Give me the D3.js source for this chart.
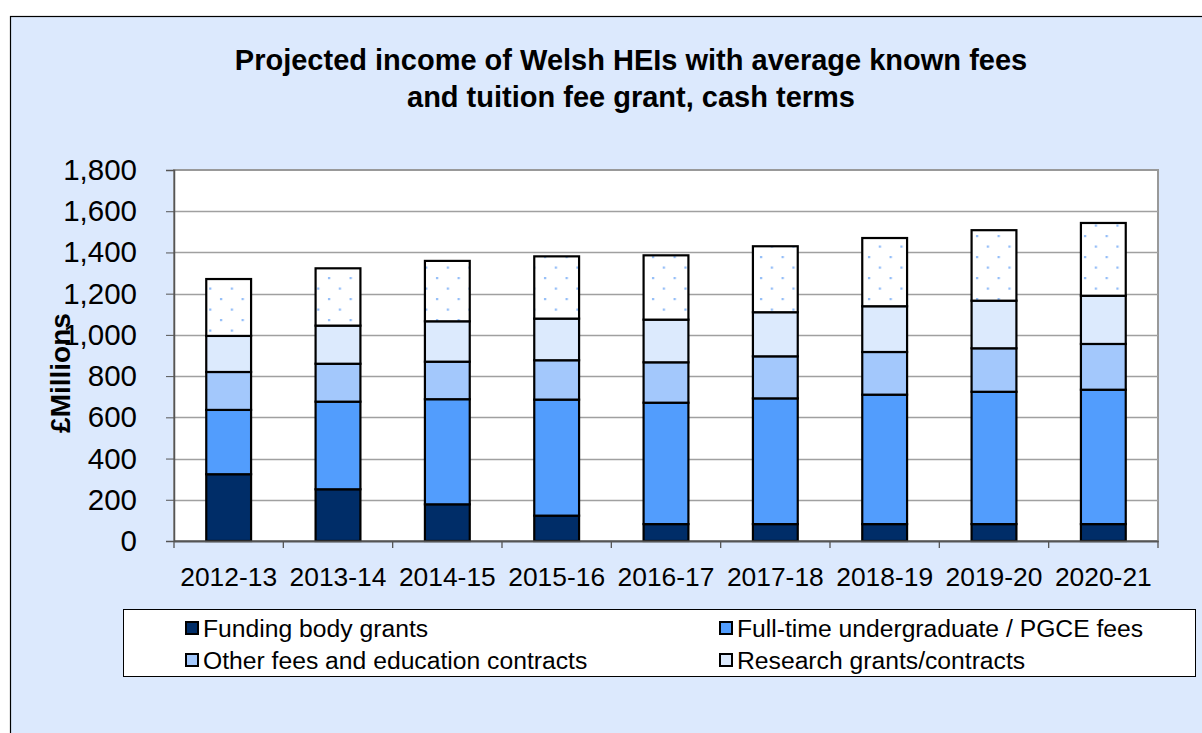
<!DOCTYPE html>
<html>
<head>
<meta charset="utf-8">
<script src="https://cdn.jsdelivr.net/npm/d3@7"></script>
<style>
  body { margin: 0; background: #fff; }
  svg { font-family: "Liberation Sans", Arial, sans-serif; }
</style>
</head>
<body>
<script>
var years = ['2012-13', '2013-14', '2014-15', '2015-16', '2016-17', '2017-18', '2018-19', '2019-20', '2020-21'];

// £ millions
var fundingBody = [324, 251, 178, 123, 82, 82, 82, 82, 82];
var ftUndergrad = [312, 425, 510, 563, 589, 610, 628, 642, 652];
var otherFees   = [184, 184, 182, 191, 196, 204, 207, 211, 222];
var research    = [175, 185, 196, 202, 207, 214, 222, 231, 234];
var otherIncome = [276, 278, 293, 302, 312, 320, 331, 342, 353];

var seriesNames = ['Funding body grants', 'Full-time undergraduate / PGCE fees',
  'Other fees and education contracts', 'Research grants/contracts', 'Other income'];
var seriesKeys = ['funding', 'ft', 'other', 'research', 'otherInc'];
var yTicks = [0, 200, 400, 600, 800, 1000, 1200, 1400, 1600, 1800];

var colors = ['#002d68', '#529dfd', '#a3c8fc', '#dceafd', 'url(#dots)'];

var data = years.map(function(y, i) {
  return { year: y, funding: fundingBody[i], ft: ftUndergrad[i], other: otherFees[i],
    research: research[i], otherInc: otherIncome[i] };
});

var width = 1202, height = 733;
var plot = { left: 174, right: 1158, top: 170, bottom: 541 };

var svg = d3.select('body').append('svg')
  .attr('width', width)
  .attr('height', height);

var defs = svg.append('defs');
var pat = defs.append('pattern')
  .attr('id', 'dots')
  .attr('patternUnits', 'userSpaceOnUse')
  .attr('width', 21.6)
  .attr('height', 21)
  .attr('x', 0).attr('y', 0);
pat.append('rect').attr('width', 21.6).attr('height', 21).attr('fill', '#fff');
pat.append('rect').attr('x', 4).attr('y', 4).attr('width', 2.2).attr('height', 2.2).attr('fill', '#90bbf8');
pat.append('rect').attr('x', 14.8).attr('y', 14.5).attr('width', 2.2).attr('height', 2.2).attr('fill', '#90bbf8');

// chart background
svg.append('rect')
  .attr('x', 10.5).attr('y', 16.5)
  .attr('width', 1300).attr('height', 800)
  .attr('fill', '#dce9fd')
  .attr('stroke', '#000')
  .attr('stroke-width', 1.2);

// title
svg.append('text')
  .attr('x', 631).attr('y', 70)
  .attr('text-anchor', 'middle')
  .style('font-size', '29px').style('font-weight', 'bold')
  .text('Projected income of Welsh HEIs with average known fees');
svg.append('text')
  .attr('x', 631).attr('y', 107)
  .attr('text-anchor', 'middle')
  .style('font-size', '29px').style('font-weight', 'bold')
  .text('and tuition fee grant, cash terms');

var x = d3.scaleBand()
  .domain(years)
  .range([plot.left, plot.right])
  .paddingInner(0.59)
  .paddingOuter(0.295);

var y = d3.scaleLinear()
  .domain([0, 1800])
  .range([plot.bottom, plot.top]);

// plot area
svg.append('rect')
  .attr('x', plot.left).attr('y', plot.top)
  .attr('width', plot.right - plot.left).attr('height', plot.bottom - plot.top)
  .attr('fill', '#fff')
  .attr('stroke', '#999')
  .attr('stroke-width', 2);

// gridlines
svg.append('g')
  .selectAll('line')
  .data(yTicks.slice(1, -1))
  .enter().append('line')
  .attr('x1', plot.left).attr('x2', plot.right)
  .attr('y1', function(d) { return Math.round(y(d)) + 0.5; })
  .attr('y2', function(d) { return Math.round(y(d)) + 0.5; })
  .attr('stroke', '#a0a0a0')
  .attr('stroke-width', 1.3);

// stacked bars
var stack = d3.stack().keys(seriesKeys);
var layers = stack(data);

var g = svg.selectAll('.layer')
  .data(layers)
  .enter().append('g')
  .attr('class', 'layer')
  .attr('fill', function(d, i) { return colors[i]; });

g.selectAll('rect')
  .data(function(d) { return d; })
  .enter().append('rect')
  .attr('x', function(d) { return x(d.data.year); })
  .attr('y', function(d) { return y(d[1]); })
  .attr('width', x.bandwidth())
  .attr('height', function(d) { return y(d[0]) - y(d[1]); })
  .attr('stroke', '#000')
  .attr('stroke-width', 2.2);

// y axis
var yAxis = d3.axisLeft(y)
  .tickValues(yTicks)
  .tickSize(8)
  .tickFormat(d3.format(','));

var yg = svg.append('g')
  .attr('transform', 'translate(' + plot.left + ',0)')
  .call(yAxis);
yg.select('.domain').attr('stroke', '#555').attr('stroke-width', 1.5);
yg.selectAll('.tick line').attr('stroke', '#555');
yg.selectAll('.tick text')
  .attr('x', -37)
  .style('font-size', '29.5px')
  .attr('fill', '#000');

// x axis
var xAxis = d3.axisBottom(x).tickSize(0).tickSizeOuter(0);
var xg = svg.append('g')
  .attr('transform', 'translate(0,' + plot.bottom + ')')
  .call(xAxis);
xg.select('.domain').attr('stroke', '#555').attr('stroke-width', 2);
xg.selectAll('.tick text')
  .attr('y', 45)
  .attr('dy', null)
  .style('font-size', '26.4px')
  .attr('fill', '#000');

// category separators on x axis
xg.selectAll('.sep')
  .data(d3.range(years.length + 1))
  .enter().append('line')
  .attr('class', 'sep')
  .attr('x1', function(i) { return plot.left + i * (plot.right - plot.left) / years.length; })
  .attr('x2', function(i) { return plot.left + i * (plot.right - plot.left) / years.length; })
  .attr('y1', 0).attr('y2', 7)
  .attr('stroke', '#555').attr('stroke-width', 1.3);

// y axis title
svg.append('text')
  .attr('transform', 'translate(70,373) rotate(-90)')
  .attr('text-anchor', 'middle')
  .style('font-size', '28px').style('font-weight', 'bold')
  .text('£Millions');

// legend
svg.append('rect')
  .attr('x', 123.5).attr('y', 609.5)
  .attr('width', 1072).attr('height', 67)
  .attr('fill', '#fff')
  .attr('stroke', '#000')
  .attr('stroke-width', 1);

var legendPos = [[186, 628], [720, 628], [186, 660], [720, 660]];
var lg = svg.selectAll('.legend')
  .data(seriesNames.slice(0, 4))
  .enter().append('g')
  .attr('class', 'legend')
  .attr('transform', function(d, i) { return 'translate(' + legendPos[i][0] + ',' + legendPos[i][1] + ')'; });

lg.append('rect')
  .attr('x', 0).attr('y', -6)
  .attr('width', 12).attr('height', 12)
  .attr('fill', function(d, i) { return colors[i]; })
  .attr('stroke', '#000')
  .attr('stroke-width', 2);

lg.append('text')
  .attr('x', 17).attr('y', 0)
  .attr('dy', '0.35em')
  .style('font-size', '24.7px')
  .text(function(d) { return d; });
</script>
</body>
</html>
